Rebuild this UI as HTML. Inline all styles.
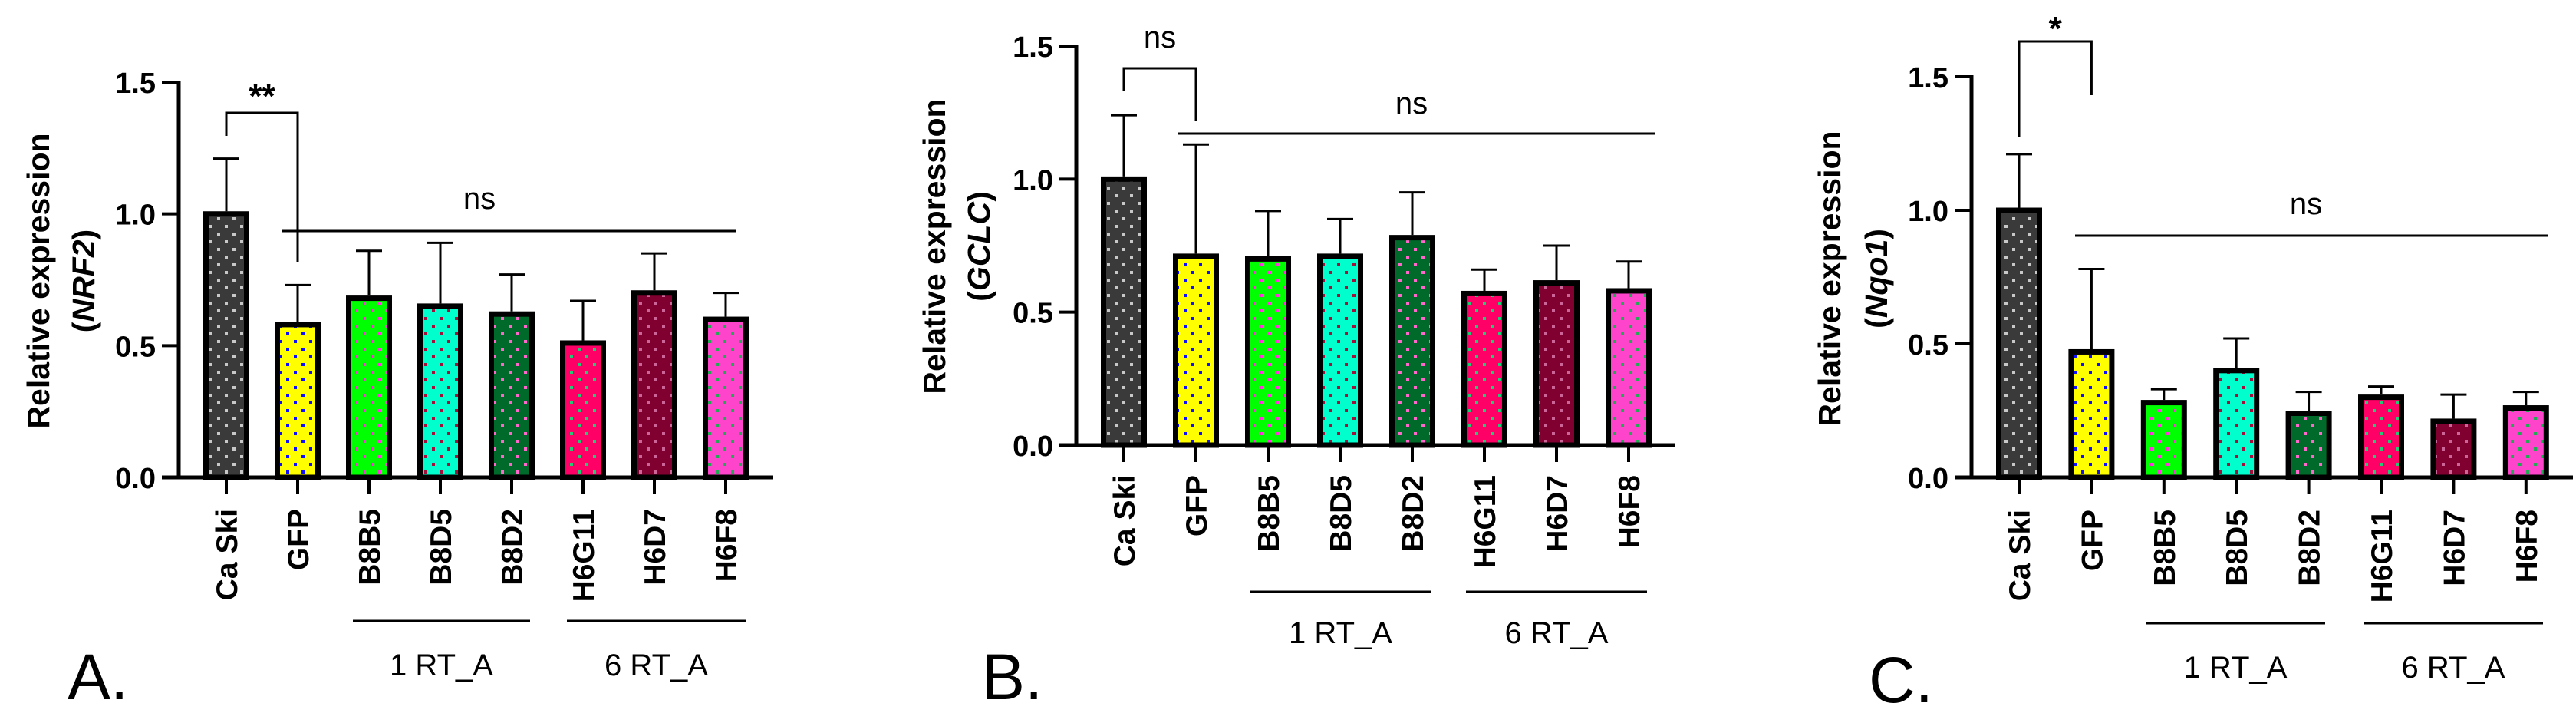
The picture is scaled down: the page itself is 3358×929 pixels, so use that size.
<!DOCTYPE html>
<html><head><meta charset="utf-8">
<style>
html,body{margin:0;padding:0;background:#fff;}
svg{display:block;font-family:"Liberation Sans",sans-serif;}
</style></head>
<body>
<svg id="fig" width="3358" height="929" viewBox="0 0 3358 929" xmlns="http://www.w3.org/2000/svg">
<defs id="defs"></defs>
</svg>
<script>
const categories = ["Ca Ski","GFP","B8B5","B8D5","B8D2","H6G11","H6D7","H6F8"];
const yTicks = [0, 0.5, 1.0, 1.5];
const yTickLabels = ["0.0","0.5","1.0","1.5"];
const nrf2Values = [1.01, 0.59, 0.69, 0.66, 0.63, 0.52, 0.71, 0.61];
const nrf2Errors = [1.21, 0.73, 0.86, 0.89, 0.77, 0.67, 0.85, 0.70];
const gclcValues = [1.01, 0.72, 0.71, 0.72, 0.79, 0.58, 0.62, 0.59];
const gclcErrors = [1.24, 1.13, 0.88, 0.85, 0.95, 0.66, 0.75, 0.69];
const nqo1Values = [1.01, 0.48, 0.29, 0.41, 0.25, 0.31, 0.22, 0.27];
const nqo1Errors = [1.21, 0.78, 0.33, 0.52, 0.32, 0.34, 0.31, 0.32];
const groupLabels = ["1 RT_A","6 RT_A"];

const fills = ["#3a3a3a","#ffff00","#00ff00","#00ffcc","#006a2a","#ff0066","#800030","#ff44cc"];
const dots  = ["#c8c8c8","#1010ff","#ff33dd","#a0103a","#ff66cc","#22cc77","#cc6699","#22aa55"];

const NS = "http://www.w3.org/2000/svg";
const svg = document.getElementById('fig');
const defs = document.getElementById('defs');
function mk(tag, attrs, parent){
  const e = document.createElementNS(NS, tag);
  for (const k in attrs) e.setAttribute(k, attrs[k]);
  (parent||svg).appendChild(e);
  return e;
}
fills.forEach((f,i)=>{
  const p = mk('pattern',{id:'pat'+i,width:20,height:20,patternUnits:'userSpaceOnUse'},defs);
  mk('rect',{x:0,y:0,width:20,height:20,fill:f},p);
  mk('rect',{x:3,y:3,width:4,height:4,fill:dots[i]},p);
  mk('rect',{x:13,y:13,width:4,height:4,fill:dots[i]},p);
});

const panels = [
 {key:'a', values:nrf2Values, errors:nrf2Errors, gene:'NRF2', letter:'A.', sig:'**', sigBold:true,
  x0:233, xEnd:1008, y0:622, y15:107, c0:295, step:93,
  brTop:147, brL:177, brR:342, sigY:140,
  nsY:301, nsX1:367, nsX2:960, nsTx:625, nsTy:272,
  t1x:64, t2x:123, ty:366, labTop:663,
  gy:809, g:[[460,691],[739,972]], gty:880, lx:88, lty:911},
 {key:'b', values:gclcValues, errors:gclcErrors, gene:'GCLC', letter:'B.', sig:'ns', sigBold:false,
  x0:1403, xEnd:2183, y0:580, y15:60, c0:1465, step:94,
  brTop:89, brL:119, brR:158, sigY:62,
  nsY:174, nsX1:1536, nsX2:2158, nsTx:1840, nsTy:148,
  t1x:1232, t2x:1290, ty:321, labTop:619,
  gy:771, g:[[1630,1865],[1911,2147]], gty:838, lx:1280, lty:911},
 {key:'c', values:nqo1Values, errors:nqo1Errors, gene:'Nqo1', letter:'C.', sig:'*', sigBold:true,
  x0:2570, xEnd:3354, y0:622, y15:100, c0:2632, step:94.4,
  brTop:54, brL:179, brR:124, sigY:52,
  nsY:307, nsX1:2705, nsX2:3322, nsTx:3006, nsTy:279,
  t1x:2399, t2x:2460, ty:363, labTop:664,
  gy:812, g:[[2797,3031],[3081,3315]], gty:883, lx:2436, lty:915}
];

panels.forEach(P=>{
  const g = mk('g',{});
  
  
  const yS = v => P.y0 - (P.y0 - P.y15) * v / 1.5;
  const xS = i => P.c0 + P.step * i;

  categories.forEach((c,i)=>{
    const cx = xS(i);
    const eb = mk('line',{x1:cx,x2:cx,y1:yS(P.values[i]),y2:yS(P.errors[i]),stroke:'#000','stroke-width':3},g);
    
    
    const cap = mk('line',{x1:cx-17,x2:cx+17,y1:yS(P.errors[i]),y2:yS(P.errors[i]),stroke:'#000','stroke-width':3},g);
    
    
    const top = yS(P.values[i]);
    const r = mk('rect',{x:cx-26.5,y:top+3.5,width:53,height:Math.max(0,P.y0-top-3.5),fill:'url(#pat'+i+')',stroke:'#000','stroke-width':7},g);
    
    
    const tk = mk('line',{x1:cx,x2:cx,y1:P.y0,y2:P.y0+22,stroke:'#000','stroke-width':4},g);
    
    
    const t = mk('text',{transform:`translate(${cx+14},${P.labTop}) rotate(-90)`,'text-anchor':'end','font-size':39,'font-weight':'bold',fill:'#000'},g);
    t.textContent = c;
    
    
  });

  const ya = mk('line',{x1:P.x0,x2:P.x0,y1:P.y15-2,y2:P.y0+2,stroke:'#000','stroke-width':5},g);
  
  
  const xa = mk('line',{x1:P.x0-22,x2:P.xEnd,y1:P.y0,y2:P.y0,stroke:'#000','stroke-width':5},g);
  
  
  yTicks.forEach((v,i)=>{
    const l = mk('line',{x1:P.x0-22,x2:P.x0,y1:yS(v),y2:yS(v),stroke:'#000','stroke-width':4},g);
    
    
    const t = mk('text',{x:P.x0-30,y:yS(v)+14,'text-anchor':'end','font-size':38,'font-weight':'bold',fill:'#000'},g);
    t.textContent = yTickLabels[i];
    
    
  });

  const t1 = mk('text',{transform:`translate(${P.t1x},${P.ty}) rotate(-90)`,'text-anchor':'middle','font-size':41,'font-weight':'bold',fill:'#000'},g);
  t1.textContent = 'Relative expression';
  
  
  const t2 = mk('text',{transform:`translate(${P.t2x},${P.ty}) rotate(-90)`,'text-anchor':'middle','font-size':41,'font-weight':'bold',fill:'#000'},g);
  t2.innerHTML = '(<tspan font-style="italic">'+P.gene+'</tspan>)';
  
  

  const xa0 = xS(0), xa1 = xS(1);
  const br = mk('polyline',{points:`${xa0},${P.brL} ${xa0},${P.brTop} ${xa1},${P.brTop} ${xa1},${P.brR}`,fill:'none',stroke:'#000','stroke-width':3},g);
  
  
  const st = mk('text',{x:(xa0+xa1)/2,y:P.sigY,'text-anchor':'middle','font-size':P.sigBold?44:40,'font-weight':P.sigBold?'bold':'normal',fill:'#000'},g);
  st.textContent = P.sig;
  
  

  const nl = mk('line',{x1:P.nsX1,x2:P.nsX2,y1:P.nsY,y2:P.nsY,stroke:'#000','stroke-width':3},g);
  
  
  const nt = mk('text',{x:P.nsTx,y:P.nsTy,'text-anchor':'middle','font-size':40,fill:'#000'},g);
  nt.textContent = 'ns';
  
  

  P.g.forEach((r,i)=>{
    const l = mk('line',{x1:r[0],x2:r[1],y1:P.gy,y2:P.gy,stroke:'#000','stroke-width':3},g);
    
    
    const t = mk('text',{x:(r[0]+r[1])/2,y:P.gty,'text-anchor':'middle','font-size':40,fill:'#000'},g);
    t.textContent = groupLabels[i];
    
    
  });

  const lt = mk('text',{x:P.lx,y:P.lty,'font-size':84,fill:'#000'},g);
  lt.textContent = P.letter;
  
  
});
</script>
</body></html>
